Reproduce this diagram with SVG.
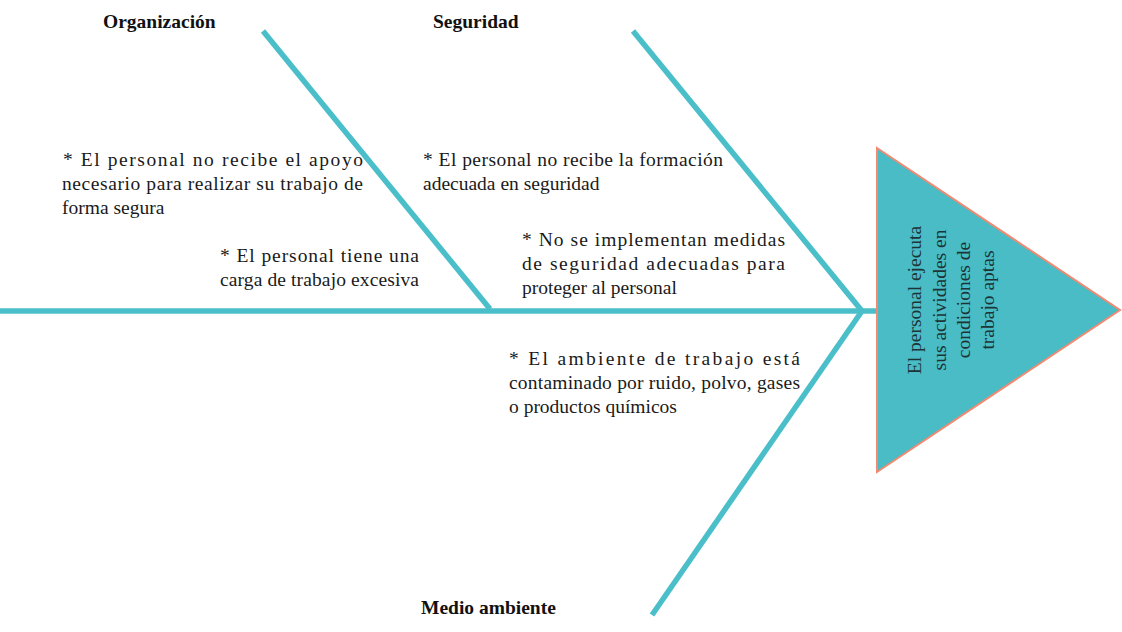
<svg xmlns="http://www.w3.org/2000/svg" width="1122" height="632" viewBox="0 0 1122 632">
<style>
.bone{stroke:#4BBFC9;stroke-width:5.5;fill:none;stroke-linecap:butt}
.t{font-family:"Liberation Serif","Times New Roman",serif;font-size:19.5px;fill:#1a1a1a}
.h{font-family:"Liberation Serif","Times New Roman",serif;font-size:19.5px;font-weight:bold;fill:#111}
.e{font-family:"Liberation Serif","Times New Roman",serif;font-size:19.5px;fill:#1d3436;text-anchor:middle}
</style>
<rect width="1122" height="632" fill="#ffffff"/>
<g id="connectors">
<line class="bone" x1="0" y1="311" x2="877" y2="311"/>
<line class="bone" x1="263" y1="31" x2="490" y2="309"/>
<line class="bone" x1="633" y1="31" x2="862" y2="311"/>
<line class="bone" x1="862" y1="311" x2="652" y2="615"/>
</g>
<g id="effect">
<polygon points="877,148 1120,310 877,472" fill="#49BCC6" stroke="#F08A72" stroke-width="2"/>
<g transform="translate(0,300)">
<text class="e" transform="translate(921,0) rotate(-90)">El personal ejecuta</text>
<text class="e" transform="translate(946,0) rotate(-90)">sus actividades en</text>
<text class="e" transform="translate(970,0) rotate(-90)">condiciones de</text>
<text class="e" transform="translate(994,0) rotate(-90)">trabajo aptas</text>
</g>
</g>
<g id="cat-organizacion">
<text class="h" x="103" y="28">Organización</text>
</g>
<g id="cat-seguridad">
<text class="h" x="433" y="28">Seguridad</text>
</g>
<g id="cat-medio">
<text class="h" x="421" y="614">Medio ambiente</text>
</g>
<g id="cause-org-1">
<text class="t" x="63" y="166" textLength="300" lengthAdjust="spacing">* El personal no recibe el apoyo</text>
<text class="t" x="62" y="190" textLength="301" lengthAdjust="spacing">necesario para realizar su trabajo de</text>
<text class="t" x="62" y="214">forma segura</text>
</g>
<g id="cause-org-2">
<text class="t" x="220" y="262" textLength="199" lengthAdjust="spacing">* El personal tiene una</text>
<text class="t" x="220" y="286" textLength="199" lengthAdjust="spacing">carga de trabajo excesiva</text>
</g>
<g id="cause-seg-1">
<text class="t" x="423" y="166" textLength="300" lengthAdjust="spacing">* El personal no recibe la formación</text>
<text class="t" x="423" y="190">adecuada en seguridad</text>
</g>
<g id="cause-seg-2">
<text class="t" x="522" y="246" textLength="263" lengthAdjust="spacing">* No se implementan medidas</text>
<text class="t" x="522" y="270" textLength="263" lengthAdjust="spacing">de seguridad adecuadas para</text>
<text class="t" x="522" y="294">proteger al personal</text>
</g>
<g id="cause-med-1">
<text class="t" x="509" y="365" textLength="291" lengthAdjust="spacing">* El ambiente de trabajo está</text>
<text class="t" x="509" y="389" textLength="291" lengthAdjust="spacing">contaminado por ruido, polvo, gases</text>
<text class="t" x="509" y="413">o productos químicos</text>
</g>
</svg>
